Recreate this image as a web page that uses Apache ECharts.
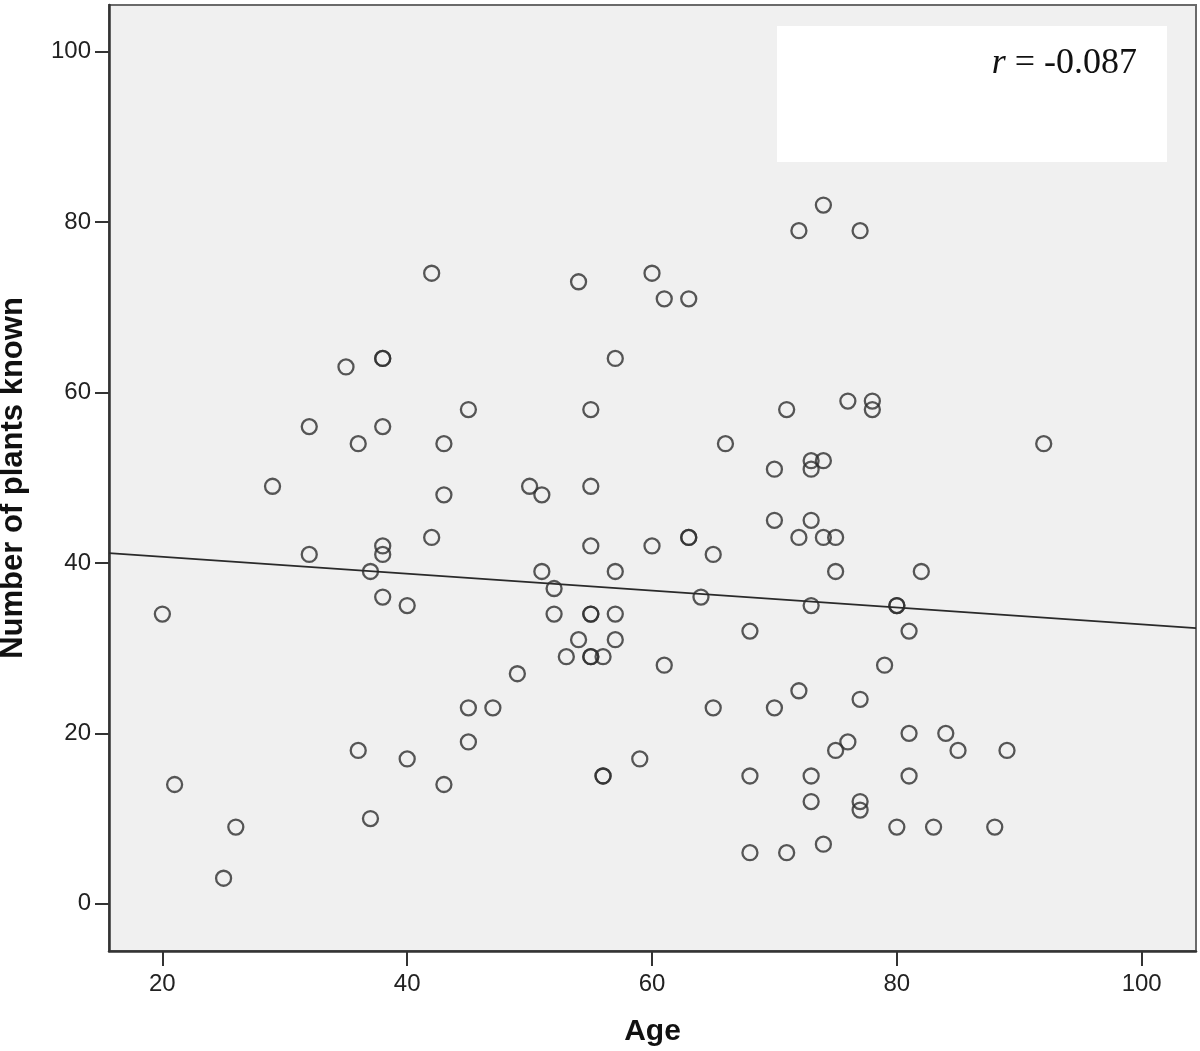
<!DOCTYPE html>
<html>
<head>
<meta charset="utf-8">
<script src="https://cdn.jsdelivr.net/npm/echarts@6/dist/echarts.min.js"></script>
<style>
html,body{margin:0;padding:0;background:#fff;}
#chart{width:1200px;height:1051px;}
</style>
</head>
<body>
<div id="chart"></div>
<script>
// ---- data ----
const ages = [20,21,25,26,29,32,32,35,36,36,37,37,38,38,38,38,38,38,40,40,
  42,42,43,43,43,45,45,45,47,49,50,51,51,52,52,53,54,54,55,55,
  55,55,55,55,55,56,56,56,57,57,57,57,59,60,60,61,61,63,63,63,
  64,65,65,66,68,68,68,70,70,70,71,71,72,72,72,73,73,73,73,73,
  73,74,74,74,74,75,75,75,76,76,77,77,77,77,78,78,79,80,80,80,
  81,81,81,82,83,84,85,88,89,92];
const plantsKnown = [34,14,3,9,49,56,41,63,54,18,39,10,64,64,56,42,41,36,35,17,
  74,43,54,48,14,58,23,19,23,27,49,48,39,37,34,29,73,31,58,49,
  42,34,34,29,29,29,15,15,64,39,34,31,17,74,42,71,28,71,43,43,
  36,41,23,54,32,15,6,51,45,23,58,6,79,43,25,52,51,45,35,15,
  12,82,52,43,7,43,39,18,59,19,79,24,12,11,59,58,28,35,35,9,
  32,20,15,39,9,20,18,9,18,54];
// fit line end points
const fitAges = [15.64, 104.44];
const fitPlants = [41.15, 32.35];
const xTicks = [20, 40, 60, 80, 100];
const yTicks = [0, 20, 40, 60, 80, 100];
const annotation = '-0.087';

const points = ages.map((a, i) => [a, plantsKnown[i]]);
const fitLine = fitAges.map((a, i) => [a, fitPlants[i]]);

const chart = echarts.init(document.getElementById('chart'), null, {renderer: 'canvas'});
const labelFont = {fontFamily: 'Liberation Sans, Arial, sans-serif', fontSize: 24, color: '#222'};
chart.setOption({
  animation: false,
  backgroundColor: '#ffffff',
  grid: {
    left: 109, right: 4, top: 5, bottom: 100,
    containLabel: false, outerBoundsMode: 'none',
    show: true, backgroundColor: '#f0f0f0', borderColor: '#6a6a6a', borderWidth: 2
  },
  xAxis: {
    type: 'value', min: 15.64, max: 104.44,
    name: 'Age', nameLocation: 'middle', nameGap: 66,
    nameTextStyle: {fontFamily: 'Liberation Sans, Arial, sans-serif', fontSize: 30, fontWeight: 'bold', color: '#111'},
    axisLine: {show: true, onZero: false, lineStyle: {color: '#333', width: 2.5}},
    axisTick: {show: true, length: 15, customValues: xTicks, lineStyle: {color: '#333', width: 2}},
    axisLabel: Object.assign({customValues: xTicks, margin: 21}, labelFont),
    splitLine: {show: false}
  },
  yAxis: {
    type: 'value', min: -5.54, max: 105.48,
    name: 'Number of plants known', nameLocation: 'middle', nameGap: 80, nameRotate: 90,
    nameTextStyle: {fontFamily: 'Liberation Sans, Arial, sans-serif', fontSize: 31, fontWeight: 'bold', color: '#111'},
    axisLine: {show: true, onZero: false, lineStyle: {color: '#333', width: 2.5}},
    axisTick: {show: true, length: 14, customValues: yTicks, lineStyle: {color: '#333', width: 2}},
    axisLabel: Object.assign({customValues: yTicks, margin: 18}, labelFont),
    splitLine: {show: false}
  },
  graphic: [
    {type: 'rect', shape: {x: 777, y: 26, width: 390, height: 136}, style: {fill: '#ffffff'}, z: 10},
    {type: 'text', x: 1137, y: 64, z: 11,
      style: {
        text: '{i|r} = ' + annotation,
        align: 'right', verticalAlign: 'middle',
        fontFamily: 'Liberation Serif, Times New Roman, serif', fontSize: 36, fill: '#111',
        rich: {i: {fontStyle: 'italic', fontFamily: 'Liberation Serif, Times New Roman, serif', fontSize: 36, color: '#111'}}
      }}
  ],
  series: [
    {
      type: 'scatter', data: points, symbol: 'circle', symbolSize: 15,
      itemStyle: {color: 'rgba(0,0,0,0)', borderColor: '#2e2e2e', borderWidth: 2.3},
      z: 3
    },
    {
      type: 'line', data: fitLine, symbol: 'none',
      lineStyle: {color: '#2a2a2a', width: 1.6}, z: 4
    }
  ]
});
</script>
</body>
</html>
